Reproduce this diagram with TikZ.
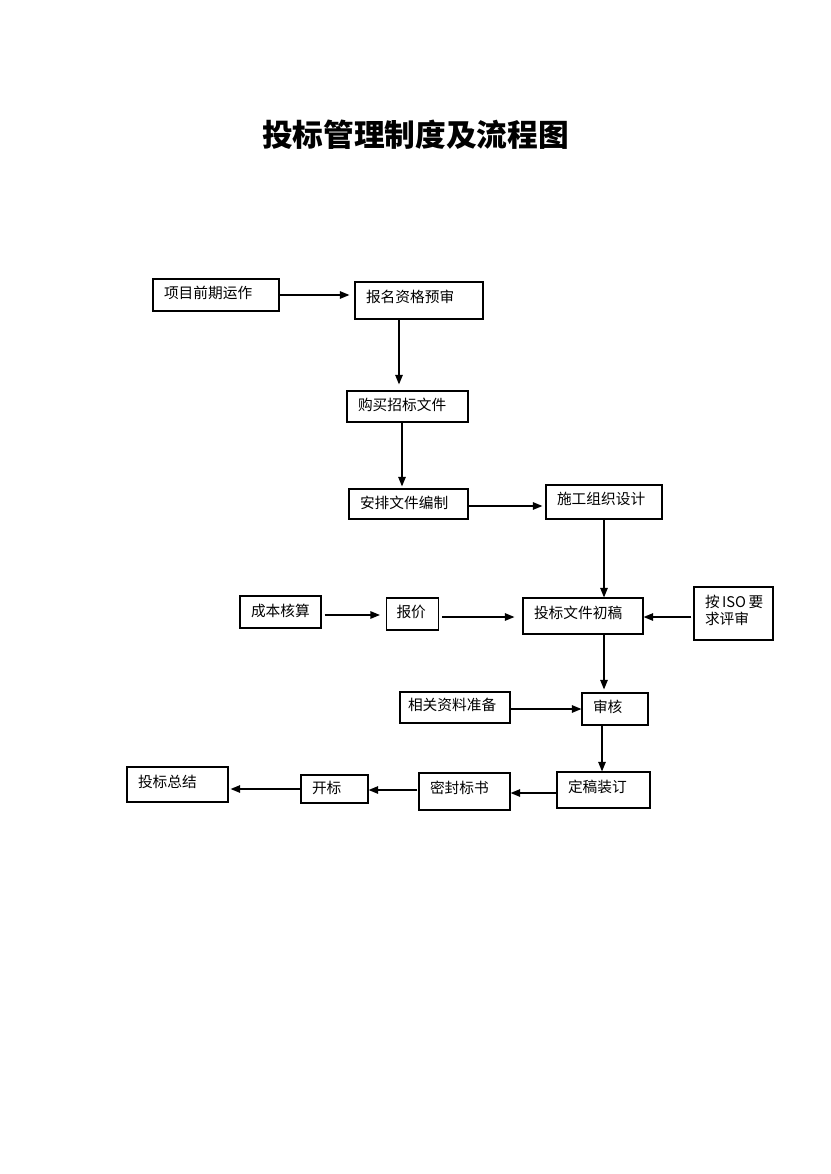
\documentclass[tikz,border=0pt]{standalone}
\usepackage{fontspec}
\setmainfont{Noto Sans CJK SC}
\usetikzlibrary{arrows.meta,positioning}
\newcommand\boxfont{\fontsize{14.7}{17}\selectfont}
\newcommand\titlefont{\fontsize{30.7}{36}\selectfont\bfseries}

\begin{document}
\begin{tikzpicture}[x=1pt,y=-1pt]

    \tikzstyle{box}=[draw,line width=1.2pt,align=left,inner xsep=11pt,inner ysep=0pt,font=\boxfont]
    \tikzstyle{mid}=[box,text height=.9em,text depth=.21em]
    \tikzstyle{lo}=[box,text height=.9em,text depth=.05em]
    \tikzstyle{hi}=[box,text height=.9em,text depth=.48em]
    \tikzstyle{arr}=[line width=1.2pt,-{Triangle[length=9.5pt,width=7.5pt]}]

\useasboundingbox (0,0) rectangle (830,1174);

\node (title) at (415.5,135) {\titlefont 投标管理制度及流程图};

\node (xmqq) [mid,text width=104pt,minimum height=32pt] at (216,295) {项目前期运作};
\node (bmys) [hi,text width=106pt,minimum height=37pt] at (419,300.5) {报名资格预审};
\node (gmzb) [lo,text width=99pt,minimum height=31pt] at (407.5,406.5) {购买招标文件};
\node (apbz) [lo,text width=97pt,minimum height=30pt] at (408.5,504) {安排文件编制};
\node (sgsj) [hi,text width=94pt,minimum height=34pt] at (604,502) {施工组织设计};

\node (cbhs) [lo,text width=59pt,minimum height=32pt] at (280.5,612) {成本核算};
\node (bj) [mid,inner xsep=10pt,text width=32pt,minimum height=32pt] at (412.5,614) {报价};
\node (tbcg) [hi,text width=98pt,minimum height=36pt] at (583,616) {投标文件初稿};
\node (isops) [box,text width=57pt,minimum height=53pt,text height=14pt,text depth=26pt] at (733.5,613.5) {按\,ISO\,要\\求评审};

\node (xgzl) [mid,inner xsep=8pt,text width=94pt,minimum height=31pt] at (455,707.5) {相关资料准备};
\node (sh) [mid,text width=44pt,minimum height=32pt] at (615,709) {审核};

\node (dgzd) [hi,text width=71pt,minimum height=36pt] at (603.5,790) {定稿装订};
\node (mfbs) [hi,text width=69pt,minimum height=37pt] at (464.5,791.5) {密封标书};
\node (kb) [lo,text width=45pt,minimum height=28pt] at (334.5,789) {开标};
\node (tbzj) [mid,text width=79pt,minimum height=35pt] at (177.5,784.5) {投标总结};

\coordinate (b1) at ([xshift=-20pt]bmys.south);
\coordinate (b2) at ([xshift=-5.5pt]gmzb.south);
\coordinate (b3) at ([yshift=-2pt]apbz.east);
\coordinate (b4) at ([xshift=3pt,yshift=-3pt]cbhs.east);
\coordinate (b5) at ([xshift=3pt,yshift=-3pt]bj.east);
\coordinate (b6) at ([yshift=-3.5pt]isops.west);
\coordinate (b7) at ([xshift=21pt]tbcg.south);
\coordinate (b8) at ([yshift=-1.5pt]xgzl.east);
\coordinate (b9) at ([xshift=-13pt]sh.south);
\coordinate (b10) at ([yshift=-3pt]dgzd.west);
\coordinate (b11) at ([xshift=-1pt,yshift=1.5pt]mfbs.west);

\draw[arr,shorten >=5pt] (xmqq.east) -- (xmqq.east -| bmys.west);
\draw[arr,shorten >=6pt] (b1) -- (b1 |- gmzb.north);
\draw[arr,shorten >=2pt] (b2) -- (b2 |- apbz.north);
\draw[arr,shorten >=3pt] (b3) -- (b3 -| sgsj.west);
\draw[arr] (sgsj.south) -- (sgsj.south |- tbcg.north);
\draw[arr,shorten >=6pt] (b4) -- (b4 -| bj.west);
\draw[arr,shorten >=8pt] (b5) -- (b5 -| tbcg.west);
\draw[arr,shorten <=2pt] (b6) -- (b6 -| tbcg.east);
\draw[arr,shorten >=3pt] (b7) -- (b7 |- sh.north);
\draw[arr] (b8) -- (b8 -| sh.west);
\draw[arr] (b9) -- (b9 |- dgzd.north);
\draw[arr] (b10) -- (b10 -| mfbs.east);
\draw[arr] (b11) -- (b11 -| kb.east);
\draw[arr,shorten >=2pt] (kb.west) -- (kb.west -| tbzj.east);

\end{tikzpicture}
\end{document}
